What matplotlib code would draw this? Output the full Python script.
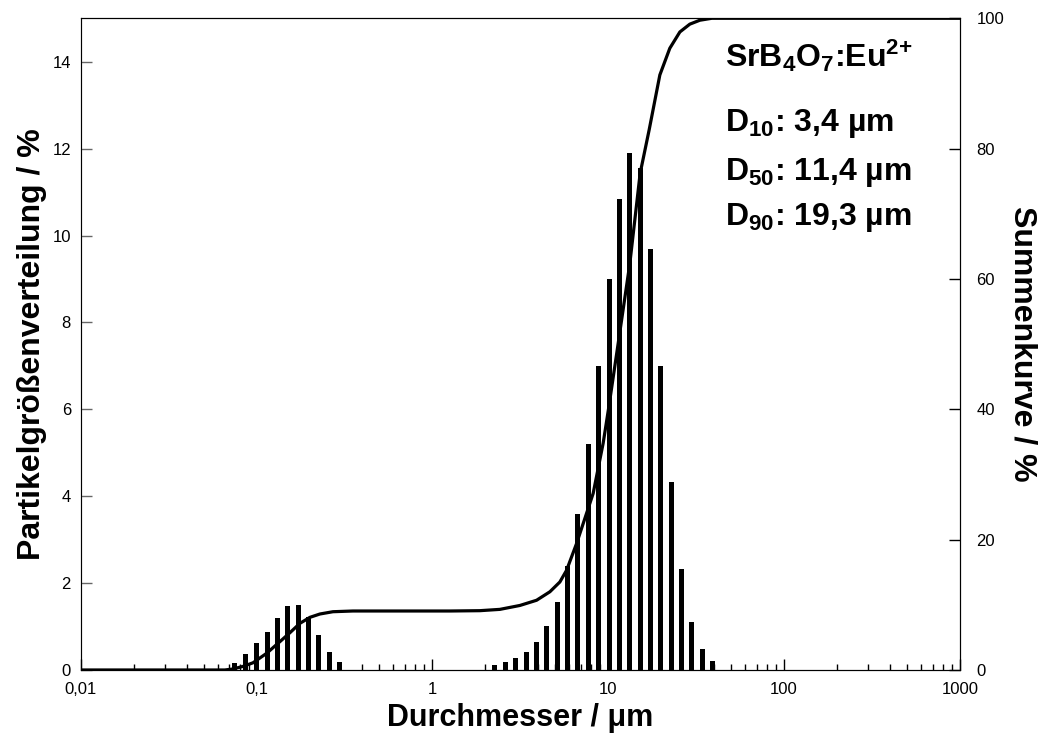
import numpy as np
import matplotlib
matplotlib.use("Agg")
import matplotlib.pyplot as plt
from matplotlib.ticker import NullFormatter, LogLocator

plt.rcParams['font.family'] = ['Liberation Sans', 'DejaVu Sans']
plt.rcParams['mathtext.fontset'] = 'custom'
plt.rcParams['mathtext.rm'] = 'Liberation Sans'
plt.rcParams['mathtext.bf'] = 'Liberation Sans:bold'
plt.rcParams['mathtext.it'] = 'Liberation Sans:italic'

# Histogram (size class in µm, frequency in %)
small_d = [0.0754, 0.0867, 0.1001, 0.1150, 0.1311, 0.1502, 0.1726, 0.1967, 0.2263, 0.2590, 0.2952]
small_q = [0.17, 0.37, 0.63, 0.87, 1.20, 1.47, 1.50, 1.23, 0.80, 0.42, 0.18]
large_d = [2.266, 2.608, 2.984, 3.432, 3.928, 4.477, 5.123, 5.855, 6.718, 7.686, 8.84,
           10.12, 11.53, 13.27, 15.18, 17.35, 19.91, 22.84, 26.10, 29.88, 34.19, 39.17]
large_q = [0.12, 0.18, 0.27, 0.41, 0.64, 1.01, 1.56, 2.40, 3.60, 5.20, 7.00,
           9.00, 10.85, 11.90, 11.55, 9.70, 7.00, 4.33, 2.32, 1.10, 0.48, 0.20]

# Cumulative curve (µm, %)
cum_d = [0.01, 0.066, 0.0734, 0.0837, 0.0954, 0.1141, 0.1358, 0.1548, 0.1765, 0.2012, 0.2293,
         0.2719, 0.3532, 0.653, 1.258, 1.862, 2.419, 3.144, 3.913, 4.656, 5.306, 5.794, 6.603,
         8.208, 9.355, 10.08, 11.53, 13.27, 15.18, 17.09, 19.65, 22.39, 25.54, 29.10, 33.18,
         38.82, 1000]
cum_q = [0, 0, 0.15, 0.55, 1.1, 2.56, 4.35, 5.72, 7.16, 8.08, 8.59,
         8.94, 9.05, 9.05, 9.05, 9.1, 9.3, 9.9, 10.7, 12.0, 13.5, 15.3, 19.4,
         27.1, 34.8, 40.4, 51.1, 62.4, 76.2, 82.9, 91.3, 95.4, 97.9, 99.1, 99.7,
         100, 100]

xticks = [0.01, 0.1, 1, 10, 100, 1000]
xticklabels = ['0,01', '0,1', '1', '10', '100', '1000']
yticks_left = [0, 2, 4, 6, 8, 10, 12, 14]
yticks_right = [0, 20, 40, 60, 80, 100]

fig = plt.figure(figsize=(10.44, 7.49), dpi=100)
ax = fig.add_axes([0.0773, 0.1055, 0.8422, 0.8701])

d_all = np.array(small_d + large_d)
q_all = np.array(small_q + large_q)
k = 10 ** 0.0142
ax.bar(d_all / k, q_all, width=d_all * k - d_all / k, align='edge', color='black', linewidth=0)

ax.set_xscale('log')
ax.set_xlim(0.01, 1000)
ax.set_ylim(0, 15)
ax.set_xticks(xticks)
ax.set_xticklabels(xticklabels)
ax.xaxis.set_minor_locator(LogLocator(base=10, subs=np.arange(2, 10)))
ax.xaxis.set_minor_formatter(NullFormatter())
ax.set_yticks(yticks_left)
ax.tick_params(axis='x', which='major', direction='in', length=8, width=1, labelsize=12, pad=9)
ax.tick_params(axis='x', which='minor', direction='in', length=4, width=1)
ax.tick_params(axis='y', which='major', direction='in', length=8, width=1, labelsize=12,
               color='#666666', pad=7)
ax.spines['left'].set_color('#666666')
for s in ['bottom', 'top', 'right']:
    ax.spines[s].set_color('black')

ax2 = ax.twinx()
ax2.plot(cum_d, cum_q, color='black', lw=2.3, solid_joinstyle='round')
ax2.set_ylim(0, 100)
ax2.set_yticks(yticks_right)
ax2.tick_params(axis='y', direction='in', length=8, width=1, labelsize=12, pad=12)
ax2.set_xlim(0.01, 1000)

ax.set_xlabel('Durchmesser / μm', fontsize=22, fontweight='bold', labelpad=4)
ax.set_ylabel('Partikelgrößenverteilung / %', fontsize=23, fontweight='bold', labelpad=4)
ax2.set_ylabel('Summenkurve / %', fontsize=23, fontweight='bold', rotation=-90, labelpad=24)

tx = 0.733
fs = 23
ax.text(tx, 0.943, r'SrB$_\mathbf{4}$O$_\mathbf{7}$:Eu$^\mathbf{2{+}}$', transform=ax.transAxes,
        fontsize=fs, fontweight='bold', va='center', ha='left')
ax.text(tx, 0.839, r'D$_\mathbf{10}$: 3,4 µm', transform=ax.transAxes,
        fontsize=fs, fontweight='bold', va='center', ha='left')
ax.text(tx, 0.763, r'D$_\mathbf{50}$: 11,4 µm', transform=ax.transAxes,
        fontsize=fs, fontweight='bold', va='center', ha='left')
ax.text(tx, 0.694, r'D$_\mathbf{90}$: 19,3 µm', transform=ax.transAxes,
        fontsize=fs, fontweight='bold', va='center', ha='left')

fig.savefig('out.png', dpi=100)
